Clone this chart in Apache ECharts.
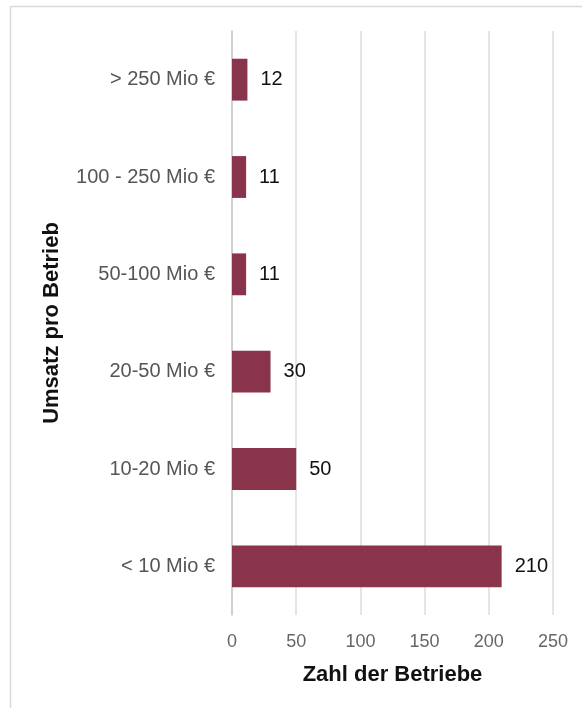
<!DOCTYPE html>
<html><head><meta charset="utf-8">
<script src="https://cdn.jsdelivr.net/npm/echarts@6/dist/echarts.min.js"></script>
<style>html,body{margin:0;padding:0;background:#fff}#c{width:582px;height:708px}</style>
</head><body><div id="c"></div>
<script>
const categories = ["< 10 Mio €", "10-20 Mio €", "20-50 Mio €", "50-100 Mio €", "100 - 250 Mio €", "> 250 Mio €"];
const values = [210, 50, 30, 11, 11, 12];
const xTicks = [0, 50, 100, 150, 200, 250];
const xAxisTitle = "Zahl der Betriebe";
const yAxisTitle = "Umsatz pro Betrieb";

const chart = echarts.init(document.getElementById('c'), null, {renderer: 'canvas'});
chart.setOption({
  animation: false,
  backgroundColor: '#fff',
  graphic: [{
    type: 'rect', shape: {x: 10.5, y: 6.5, width: 600, height: 720},
    style: {fill: 'none', stroke: '#d9d9d9', lineWidth: 1.5}, silent: true, z: -1
  }],
  grid: {left: 232, right: 29, top: 31, bottom: 93, containLabel: false},
  xAxis: {
    type: 'value', min: xTicks[0], max: xTicks[xTicks.length - 1], interval: 50,
    name: xAxisTitle, nameLocation: 'middle', nameGap: 49,
    nameTextStyle: {fontFamily: 'Liberation Sans, Arial', fontWeight: 'bold', fontSize: 22, color: '#111'},
    axisLine: {show: false}, axisTick: {show: false},
    axisLabel: {fontFamily: 'Liberation Sans, Arial', fontSize: 18, color: '#666', margin: 18},
    splitLine: {show: true, lineStyle: {color: '#dcdcdc', width: 1.5}}
  },
  yAxis: {
    type: 'category', data: categories,
    name: yAxisTitle, nameLocation: 'middle', nameGap: 169, nameRotate: 90,
    nameTextStyle: {fontFamily: 'Liberation Sans, Arial', fontWeight: 'bold', fontSize: 22, color: '#111'},
    axisLine: {show: true, lineStyle: {color: '#c8c8c8', width: 1.5}},
    axisTick: {show: false},
    axisLabel: {fontFamily: 'Liberation Sans, Arial', fontSize: 20, color: '#555', margin: 17},
    splitLine: {show: false}
  },
  series: [{
    type: 'bar', data: values, barCategoryGap: '57%',
    itemStyle: {color: '#8a344b'},
    label: {show: true, position: 'right', distance: 13,
      fontFamily: 'Liberation Sans, Arial', fontSize: 20, color: '#111'}
  }]
});
</script></body></html>
